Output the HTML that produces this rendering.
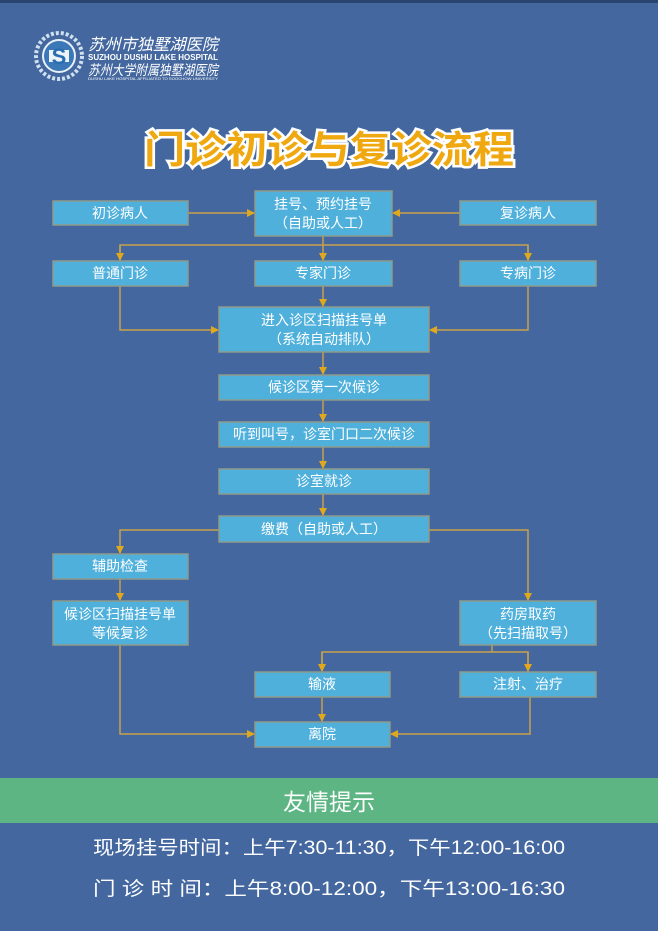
<!DOCTYPE html>
<html><head><meta charset="utf-8"><style>
html,body{margin:0;padding:0;background:#43679e;}
svg{display:block}
text{font-family:"Liberation Sans","Noto Sans CJK SC",sans-serif;}
</style></head><body>
<svg width="658" height="931" viewBox="0 0 658 931" xmlns="http://www.w3.org/2000/svg">
<defs>
<marker id="a" markerWidth="8" markerHeight="8" refX="7" refY="4" orient="auto" markerUnits="userSpaceOnUse"><path d="M0,0 L8,4 L0,8 z" fill="#e0a81c"/></marker>
</defs>
<rect width="658" height="931" fill="#43679e"/>
<rect width="658" height="3" fill="#2a4470"/>
<!-- logo -->
<g>
<circle cx="59" cy="56" r="23" fill="none" stroke="#cfe0f0" stroke-width="4" stroke-dasharray="3 2"/>
<circle cx="59" cy="56" r="16" fill="#3a78b8" stroke="#e8f0f8" stroke-width="2"/>
<path d="M49,50 h20 v12 h-20 z" fill="#fff" opacity="0.9"/>
<text x="59" y="64" font-size="22" font-weight="bold" fill="#2a6cb0" text-anchor="middle">S</text>
<text x="88" y="50" font-size="16" fill="#fff" font-style="italic" textLength="130" lengthAdjust="spacingAndGlyphs">苏州市独墅湖医院</text>
<text x="88" y="60" font-size="8" fill="#fff" font-weight="bold" textLength="130" lengthAdjust="spacingAndGlyphs">SUZHOU DUSHU LAKE HOSPITAL</text>
<text x="88" y="75" font-size="14" fill="#fff" font-style="italic" textLength="130" lengthAdjust="spacingAndGlyphs">苏州大学附属独墅湖医院</text>
<text x="88" y="80" font-size="4" fill="#fff" textLength="130" lengthAdjust="spacingAndGlyphs">DUSHU LAKE HOSPITAL AFFILIATED TO SOOCHOW UNIVERSITY</text>
</g>
<!-- title -->
<text x="329" y="163" font-size="38" font-weight="bold" fill="#f0a810" stroke="#fff" stroke-width="5" paint-order="stroke" text-anchor="middle" textLength="370" lengthAdjust="spacingAndGlyphs">门诊初诊与复诊流程</text>

<!-- connectors -->
<g stroke="#c9a04a" stroke-width="1.5" fill="none">
<line x1="188" y1="213" x2="254" y2="213" marker-end="url(#a)"/>
<line x1="460" y1="213" x2="393" y2="213" marker-end="url(#a)"/>
<polyline points="120,260 120,245 528,245 528,260" />
<line x1="120" y1="245" x2="120" y2="260" marker-end="url(#a)"/>
<line x1="528" y1="245" x2="528" y2="260" marker-end="url(#a)"/>
<line x1="323" y1="236" x2="323" y2="260" marker-end="url(#a)"/>
<polyline points="120,286 120,330 218,330" marker-end="url(#a)"/>
<polyline points="528,286 528,330 430,330" marker-end="url(#a)"/>
<line x1="323" y1="286" x2="323" y2="306" marker-end="url(#a)"/>
<line x1="323" y1="352" x2="323" y2="374" marker-end="url(#a)"/>
<line x1="323" y1="400" x2="323" y2="421" marker-end="url(#a)"/>
<line x1="323" y1="447" x2="323" y2="468" marker-end="url(#a)"/>
<line x1="323" y1="494" x2="323" y2="515" marker-end="url(#a)"/>
<polyline points="219,530 120,530 120,553" marker-end="url(#a)"/>
<polyline points="429,530 528,530 528,600" marker-end="url(#a)"/>
<line x1="120" y1="579" x2="120" y2="600" marker-end="url(#a)"/>
<polyline points="120,645 120,734 254,734" marker-end="url(#a)"/>
<line x1="492" y1="645" x2="492" y2="652"/>
<polyline points="322,671 322,652 528,652 528,671"/>
<line x1="322" y1="652" x2="322" y2="671" marker-end="url(#a)"/>
<line x1="528" y1="652" x2="528" y2="671" marker-end="url(#a)"/>
<line x1="322" y1="697" x2="322" y2="721" marker-end="url(#a)"/>
<polyline points="530,697 530,734 391,734" marker-end="url(#a)"/>
</g>

<!-- boxes -->
<g fill="#4fb0dc" stroke="#8e9a8a" stroke-width="1.5">
<rect x="53" y="201" width="135" height="24"/>
<rect x="255" y="191" width="137" height="45"/>
<rect x="460" y="201" width="136" height="24"/>
<rect x="53" y="261" width="135" height="25"/>
<rect x="255" y="261" width="137" height="25"/>
<rect x="460" y="261" width="136" height="25"/>
<rect x="219" y="307" width="210" height="45"/>
<rect x="219" y="375" width="210" height="25"/>
<rect x="219" y="422" width="210" height="25"/>
<rect x="219" y="469" width="210" height="25"/>
<rect x="219" y="516" width="210" height="26"/>
<rect x="53" y="554" width="135" height="25"/>
<rect x="53" y="601" width="135" height="44"/>
<rect x="460" y="601" width="136" height="44"/>
<rect x="255" y="672" width="135" height="25"/>
<rect x="460" y="672" width="136" height="25"/>
<rect x="255" y="722" width="135" height="25"/>
</g>
<g fill="#fff" font-size="14" text-anchor="middle">
<text x="120" y="218">初诊病人</text>
<text x="323" y="209">挂号、预约挂号</text>
<text x="323" y="228">（自助或人工）</text>
<text x="528" y="218">复诊病人</text>
<text x="120" y="278">普通门诊</text>
<text x="323" y="278">专家门诊</text>
<text x="528" y="278">专病门诊</text>
<text x="324" y="325">进入诊区扫描挂号单</text>
<text x="324" y="344">（系统自动排队）</text>
<text x="324" y="392">候诊区第一次候诊</text>
<text x="324" y="439">听到叫号，诊室门口二次候诊</text>
<text x="324" y="486">诊室就诊</text>
<text x="324" y="534">缴费（自助或人工）</text>
<text x="120" y="571">辅助检查</text>
<text x="120" y="619">候诊区扫描挂号单</text>
<text x="120" y="638">等候复诊</text>
<text x="528" y="619">药房取药</text>
<text x="528" y="638">（先扫描取号）</text>
<text x="322" y="689">输液</text>
<text x="528" y="689">注射、治疗</text>
<text x="322" y="739">离院</text>
</g>

<!-- footer -->
<rect x="0" y="778" width="658" height="45" fill="#5cb583"/>
<text x="329" y="810" font-size="23" fill="#fff" text-anchor="middle">友情提示</text>
<text x="329" y="854" font-size="19" fill="#fff" text-anchor="middle" textLength="472" lengthAdjust="spacingAndGlyphs">现场挂号时间：上午7:30-11:30，下午12:00-16:00</text>
<text x="93" y="895" font-size="19" fill="#fff" textLength="472" lengthAdjust="spacingAndGlyphs">门  诊  时  间：上午8:00-12:00，下午13:00-16:30</text>
</svg>
</body></html>
